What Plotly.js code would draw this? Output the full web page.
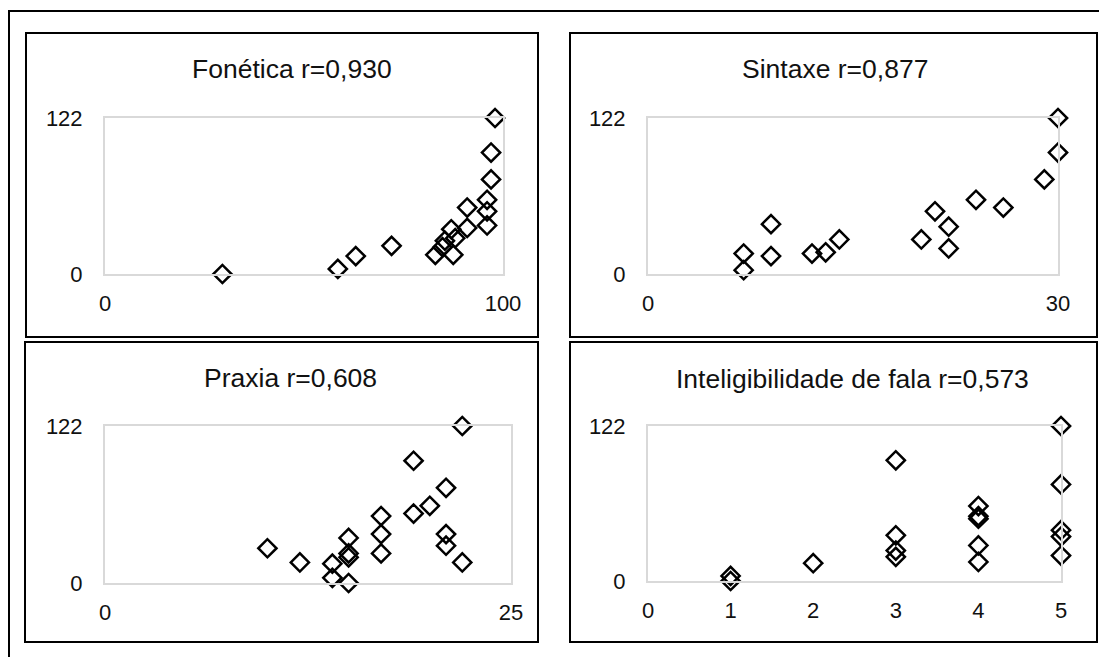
<!DOCTYPE html>
<html>
<head>
<meta charset="utf-8">
<script src="https://cdn.plot.ly/plotly-3.0.1.min.js"></script>
<style>html,body{margin:0;padding:0;background:#fff;}#chart{width:1099px;height:657px;}</style>
</head>
<body>
<div id="chart"></div>
<script>
// ---- data ----
const titles = ["Fonética r=0,930", "Sintaxe r=0,877", "Praxia r=0,608", "Inteligibilidade de fala r=0,573"];
const yMax = 122;
const xMaxes = [100, 30, 25, 5];
const xTicks1 = [0, 100];
const xTicks2 = [0, 30];
const xTicks3 = [0, 25];
const xTicks4 = [0, 1, 2, 3, 4, 5];
const yTicks = [0, 122];

const foneticaX = [98, 97, 97, 96, 91, 96, 96, 91, 87, 88, 85.4, 84.8, 72, 83, 87.5, 63, 58.5, 29.5];
const foneticaY = [122, 95, 74, 58, 52, 49, 38, 36, 35, 28, 26, 21, 22, 15, 15, 14, 4, 0];

const sintaxeX = [30, 30, 29, 24, 26, 21, 22, 20, 22, 14, 13, 12, 9, 9, 7, 7];
const sintaxeY = [122, 95, 74, 58, 52, 49, 37, 27, 20, 27, 17, 16, 39, 14, 16, 3];

const praxiaX = [22, 19, 21, 20, 19, 17, 17, 15, 21, 21, 17, 15, 15, 10, 12, 14, 14, 15, 22];
const praxiaY = [122, 95, 74, 60, 54, 52, 38, 35, 38, 29, 23, 23, 20, 27, 16, 15, 4, 0, 16];

const inteligX = [1, 1, 2, 3, 3, 3, 3, 4, 4, 4, 4, 4, 5, 5, 5, 5, 5];
const inteligY = [0, 4, 14, 95, 36, 24, 19, 59, 51, 49, 28, 15, 122, 76, 40, 35, 20];

// ---- layout helpers (pixel -> paper) ----
const W = 1099, H = 657;
const fx = p => p / W;
const fy = p => 1 - p / H;

const font = {family: "Liberation Sans, Arial, sans-serif", color: "#111"};
const marker = {symbol: "diamond-open", size: 14, color: "#000", line: {width: 2.5, color: "#000"}};

const series = [[foneticaX, foneticaY], [sintaxeX, sintaxeY], [praxiaX, praxiaY], [inteligX, inteligY]];
const xTickSets = [xTicks1, xTicks2, xTicks3, xTicks4];
// plot areas in pixels: [left, right, top, bottom]
const areas = [[105, 503, 118, 274], [648, 1058, 118, 274], [105, 511, 426, 583], [648, 1061, 426, 581]];
// panel frames in pixels
const frames = [[26, 538, 33, 337], [570, 1097, 33, 337], [25, 538, 342, 642], [570, 1097, 342, 642]];
const titlePos = [[292, 69], [835, 69], [290, 378], [852, 379]];

const data = series.map((s, i) => ({
  type: "scatter", mode: "markers", x: s[0], y: s[1],
  xaxis: i === 0 ? "x" : "x" + (i + 1), yaxis: i === 0 ? "y" : "y" + (i + 1),
  marker: marker, cliponaxis: false, showlegend: false, hoverinfo: "x+y"
}));

const layout = {
  width: W, height: H, margin: {l: 0, r: 0, t: 0, b: 0},
  paper_bgcolor: "#fff", plot_bgcolor: "#fff", font: font, showlegend: false,
  shapes: [], annotations: []
};

areas.forEach((a, i) => {
  const sx = i === 0 ? "" : String(i + 1);
  layout["xaxis" + sx] = {
    domain: [fx(a[0]), fx(a[1])], range: [0, xMaxes[i]], anchor: "y" + sx,
    tickvals: xTickSets[i], ticks: "", showgrid: false, zeroline: false,
    showline: true, mirror: true, linecolor: "#d9d9d9", linewidth: 2,
    tickfont: {size: 22, family: font.family, color: font.color}, ticklabelstandoff: 9
  };
  layout["yaxis" + sx] = {
    domain: [fy(a[3]), fy(a[2])], range: [0, yMax], anchor: "x" + sx,
    tickvals: yTicks, ticks: "", showgrid: false, zeroline: false,
    showline: true, mirror: true, linecolor: "#d9d9d9", linewidth: 2,
    tickfont: {size: 22, family: font.family, color: font.color}, ticklabelstandoff: 16
  };
});

frames.forEach(f => {
  layout.shapes.push({type: "rect", xref: "paper", yref: "paper",
    x0: fx(f[0]), x1: fx(f[1]), y0: fy(f[3]), y1: fy(f[2]),
    line: {color: "#000", width: 2}, fillcolor: "rgba(0,0,0,0)"});
});
// outer frame
layout.shapes.push({type: "rect", xref: "paper", yref: "paper",
  x0: fx(9), x1: fx(1110), y0: fy(670), y1: fy(11),
  line: {color: "#000", width: 2}, fillcolor: "rgba(0,0,0,0)"});

titles.forEach((t, i) => {
  layout.annotations.push({text: t, xref: "paper", yref: "paper",
    x: fx(titlePos[i][0]), y: fy(titlePos[i][1]), xanchor: "center", yanchor: "middle",
    showarrow: false, font: {size: 26.5, family: font.family, color: font.color}});
});

Plotly.newPlot("chart", data, layout, {staticPlot: true, displayModeBar: false});
</script>
</body>
</html>
